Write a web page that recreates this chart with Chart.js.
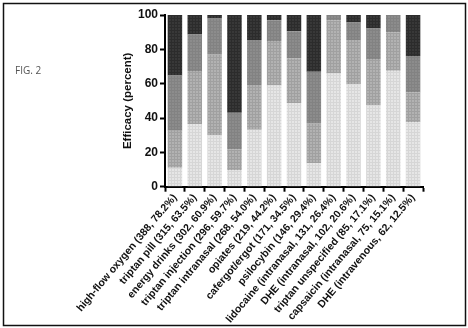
<!DOCTYPE html>
<html>
<head>
<meta charset="utf-8">
<script src="https://cdn.jsdelivr.net/npm/chart.js@4"></script>
<style>
html,body{margin:0;padding:0;background:#fff;}
#wrap{position:relative;width:468px;height:328px;}
</style>
</head>
<body>
<div id="wrap"><canvas id="c" width="468" height="328"></canvas></div>
<script>
const categories = [
  "high-flow oxygen (388, 78.2%)",
  "triptan pill (315, 63.5%)",
  "energy drinks (302, 60.9%)",
  "triptan injection (296, 59.7%)",
  "triptan intranasal (268, 54.0%)",
  "opiates (219, 44.2%)",
  "cafergot/ergot (171, 34.5%)",
  "psilocybin (146, 29.4%)",
  "lidocaine (intranasal, 131, 26.4%)",
  "DHE (intranasal, 102, 20.6%)",
  "triptan unspecified (85, 17.1%)",
  "capsaicin (intranasal, 75, 15.1%)",
  "DHE (intravenous, 62, 12.5%)"
];
const seriesNames = ["level 1", "level 2", "level 3", "level 4"];
const level1 = [11, 36.5, 30, 9.7, 33.2, 59, 48.7, 13.6, 66, 59.7, 47.6, 67.5, 37.7];
const level2 = [21.6, 30.9, 47, 12, 26, 25.8, 26.1, 23.3, 31, 25.7, 26.8, 22.3, 17.1];
const level3 = [32.1, 21.3, 21, 21.4, 26.2, 12.2, 15.7, 30.1, 3, 10.3, 17.8, 10.2, 21.3];
const level4 = [35.3, 11.3, 2, 56.9, 14.6, 3, 9.5, 33, 0, 4.3, 7.8, 0, 23.9];
const yTicks = [0, 20, 40, 60, 80, 100];

function makePattern(base, dot, step) {
  const c = document.createElement('canvas');
  c.width = step; c.height = step;
  const g = c.getContext('2d');
  g.fillStyle = base; g.fillRect(0, 0, step, step);
  g.fillStyle = dot; g.fillRect(0, 0, step, 1);
  g.fillRect(0, 0, 1, step);
  return g.createPattern(c, 'repeat');
}
const fills = [
  makePattern('#e6e6e6', '#d6d6d6', 3),
  makePattern('#b2b2b2', '#a0a0a0', 3),
  makePattern('#8c8c8c', '#828282', 3),
  makePattern('#383838', '#2c2c2c', 3)
];

const frame = {
  id: 'frame',
  beforeDraw(chart) {
    const ctx = chart.ctx;
    ctx.save();
    ctx.fillStyle = '#fff';
    ctx.fillRect(0, 0, chart.width, chart.height);
    ctx.restore();
  },
  afterDraw(chart) {
    const ctx = chart.ctx;
    ctx.save();
    ctx.strokeStyle = '#111';
    ctx.lineWidth = 1.5;
    ctx.strokeRect(3.5, 3.5, 462, 322);
    ctx.fillStyle = '#555';
    ctx.font = '10px "Open Sans", "Liberation Sans", sans-serif';
    ctx.textBaseline = 'middle';
    ctx.fillText('FIG. 2', 15, 71);
    ctx.restore();
  }
};

const data = {
  labels: categories,
  datasets: [level1, level2, level3, level4].map((d, i) => ({
    label: seriesNames[i],
    data: d,
    backgroundColor: fills[i],
    borderWidth: 0,
    barPercentage: 0.73,
    categoryPercentage: 1
  }))
};

new Chart(document.getElementById('c'), {
  type: 'bar',
  data,
  options: {
    responsive: false,
    animation: false,
    layout: { padding: { left: 0, right: 45, top: 15, bottom: 0 } },
    plugins: { legend: { display: false }, tooltip: { enabled: false } },
    scales: {
      x: {
        stacked: true,
        offset: true,
        grid: { display: true, drawOnChartArea: false, drawTicks: true, tickLength: 5, tickColor: '#000', tickWidth: 2 },
        border: { display: true, color: '#000', width: 2 },
        ticks: {
          autoSkip: false, minRotation: 50, maxRotation: 50, padding: 0,
          color: '#111',
          font: { family: '"Liberation Sans", Arial, sans-serif', size: 10.5, weight: 'bold' }
        },
        afterFit(s) { s.height = 141.3; }
      },
      y: {
        stacked: true,
        min: 0, max: 100,
        afterBuildTicks(s) { s.ticks = yTicks.map(v => ({ value: v })); },
        grid: { display: true, drawOnChartArea: false, drawTicks: true, tickLength: 5, tickColor: '#000', tickWidth: 2 },
        border: { display: true, color: '#000', width: 2 },
        ticks: {
          padding: 2, color: '#111',
          font: { family: '"Liberation Sans", Arial, sans-serif', size: 12, weight: 'bold' }
        },
        title: {
          display: true, text: 'Efficacy (percent)', color: '#111',
          font: { family: '"Liberation Sans", Arial, sans-serif', size: 11.5, weight: 'bold' },
          padding: { top: 121, bottom: 0 }
        },
        afterFit(s) { s.width = 165; }
      }
    }
  },
  plugins: [frame]
});
</script>
</body>
</html>
